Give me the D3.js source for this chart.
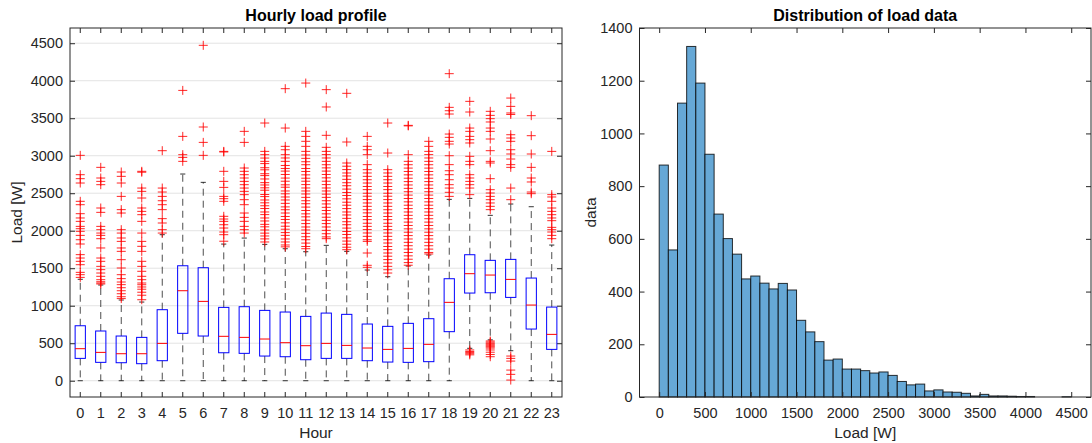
<!DOCTYPE html>
<html>
<head>
<meta charset="utf-8">
<script src="https://cdn.jsdelivr.net/npm/d3@7"></script>
<style>
  body { margin: 0; background: #fff; }
  svg { display: block; font-family: "Liberation Sans", Arial, sans-serif; }
  .tick text { fill: #262626; font-size: 14.5px; }
  .tick line { stroke: #262626; }
  .title { font-weight: bold; font-size: 16px; fill: #000; }
  .label { font-size: 15.5px; fill: #262626; }
</style>
</head>
<body>
<svg id="chart" width="1092" height="443"></svg>
<script>
// ---- data: hourly load boxplot ----
const hours = d3.range(0, 24);
const q1 = [298, 245, 240, 227, 267, 632, 596, 373, 365, 329, 320, 280, 298, 298, 267, 249, 245, 254, 654, 1169, 1173, 1111, 689, 418];
const medians = [427, 378, 360, 360, 498, 1200, 1058, 592, 578, 556, 507, 467, 498, 471, 436, 418, 431, 485, 1045, 1427, 1409, 1351, 1009, 618];
const q3 = [733, 663, 596, 578, 947, 1533, 1507, 978, 987, 938, 916, 858, 902, 885, 756, 725, 765, 827, 1360, 1680, 1605, 1618, 1369, 982];
const whiskLow = [0, 0, 0, 0, 0, 0, 0, 0, 0, 0, 0, 0, 0, 0, 0, 0, 0, 0, 0, 432, 545, 400, 0, 0];
const whiskHigh = [1352, 1276, 1076, 1049, 1947, 2756, 2645, 1822, 1902, 1818, 1760, 1720, 1805, 1725, 1476, 1387, 1529, 1676, 2418, 2431, 2205, 2356, 2320, 1809];
const outliers = [
  [3005, 2747, 2694, 2636, 2392, 2347, 2227, 2170, 2125, 2058, 2027, 1992, 1938, 1880, 1823, 1681, 1636, 1592, 1547, 1445, 1414, 1378],
  [2845, 2703, 2658, 2614, 2303, 2245, 2058, 2014, 1969, 1938, 1894, 1770, 1636, 1592, 1525, 1481, 1436, 1392, 1347, 1320, 1303, 1290],
  [2783, 2725, 2636, 2458, 2281, 2236, 2014, 1969, 1903, 1858, 1770, 1725, 1614, 1503, 1414, 1361, 1316, 1281, 1240, 1200, 1160, 1120, 1095],
  [2792, 2780, 2569, 2525, 2436, 2303, 2258, 2214, 2125, 1969, 1858, 1792, 1725, 1592, 1525, 1459, 1392, 1347, 1303, 1280, 1250, 1220, 1180, 1140, 1080],
  [3067, 2569, 2516, 2458, 2400, 2347, 2281, 2161, 2103, 2014, 1969],
  [3871, 3258, 3014, 2978, 2925],
  [4472, 3383, 3178, 3005],
  [3058, 3050, 2792, 2658, 2578, 2458, 2427, 2392, 2192, 2156, 2125, 2080, 2036, 1983, 1947, 1860],
  [3325, 3178, 2836, 2792, 2747, 2703, 2658, 2614, 2569, 2525, 2481, 2414, 2347, 2236, 2178, 2125, 2058, 2014, 1969],
  [3436, 3058, 3014, 2969, 2925, 2895, 2840, 2812, 2760, 2735, 2690, 2641, 2610, 2572, 2540, 2483, 2455, 2410, 2372, 2333, 2296, 2250, 2215, 2170, 2130, 2085, 2052, 2010, 1968, 1930, 1891, 1850],
  [3894, 3369, 3125, 3080, 3014, 2970, 2925, 2870, 2830, 2795, 2750, 2702, 2660, 2612, 2580, 2530, 2492, 2450, 2410, 2365, 2318, 2280, 2236, 2190, 2150, 2105, 2060, 2020, 1975, 1938, 1890, 1850, 1810, 1785],
  [3969, 3325, 3258, 3192, 3125, 3058, 3010, 2965, 2920, 2880, 2830, 2790, 2745, 2700, 2660, 2615, 2570, 2530, 2490, 2445, 2400, 2360, 2315, 2270, 2225, 2185, 2140, 2095, 2050, 2010, 1965, 1920, 1880, 1835, 1790, 1760],
  [3881, 3650, 3272, 3112, 3058, 3015, 2970, 2925, 2880, 2838, 2795, 2750, 2705, 2660, 2615, 2570, 2530, 2488, 2445, 2400, 2357, 2312, 2270, 2225, 2180, 2138, 2095, 2050, 2005, 1960, 1918, 1894],
  [3832, 3183, 2903, 2860, 2815, 2770, 2730, 2685, 2640, 2600, 2555, 2510, 2470, 2425, 2380, 2340, 2295, 2250, 2210, 2165, 2120, 2080, 2035, 1990, 1950, 1905, 1862, 1820, 1780, 1747],
  [3258, 3125, 3080, 3014, 2881, 2814, 2770, 2725, 2680, 2636, 2590, 2548, 2500, 2460, 2415, 2370, 2325, 2280, 2238, 2190, 2148, 2100, 2058, 2015, 1970, 1925, 1880, 1858, 1703, 1539, 1512],
  [3436, 3036, 2814, 2770, 2725, 2680, 2636, 2590, 2548, 2500, 2460, 2415, 2370, 2325, 2280, 2236, 2190, 2148, 2100, 2058, 2015, 1970, 1925, 1880, 1836, 1790, 1748, 1703, 1660, 1615, 1570, 1525, 1480, 1436],
  [3405, 3398, 3014, 2925, 2880, 2835, 2790, 2745, 2700, 2655, 2610, 2565, 2520, 2475, 2430, 2385, 2340, 2295, 2250, 2205, 2160, 2115, 2070, 2025, 1980, 1935, 1890, 1845, 1800, 1755, 1710, 1665, 1620, 1575, 1540],
  [3192, 3125, 3058, 3015, 2970, 2925, 2880, 2835, 2790, 2745, 2700, 2655, 2610, 2565, 2520, 2475, 2430, 2385, 2340, 2295, 2250, 2205, 2160, 2115, 2070, 2025, 1980, 1935, 1890, 1845, 1800, 1755, 1710, 1690],
  [4094, 3645, 3600, 3556, 3289, 3245, 3192, 3156, 3000, 2881, 2800, 2747, 2680, 2614, 2569, 2512, 2458],
  [3725, 3583, 3369, 3325, 3258, 3214, 3170, 2992, 2925, 2881, 2747, 2703, 2658, 2614, 2569, 2481, 410, 390, 375, 360, 345],
  [3592, 3538, 3494, 3450, 3369, 3325, 3223, 3067, 2925, 2903, 2694, 2547, 2503, 2458, 2414, 2370, 2325, 2281, 530, 515, 500, 488, 475, 462, 450, 435, 410, 380, 350, 320],
  [3769, 3658, 3570, 3550, 3280, 3236, 3192, 3080, 3023, 2956, 2881, 2845, 2569, 2414, 329, 298, 262, 142, 85, 9],
  [3534, 3267, 3023, 2845, 2703, 2650, 2516, 2494],
  [3058, 2481, 2450, 2392, 2303, 2258, 2214, 2170, 2134, 2045, 2014, 1983, 1938, 1894]
];
const loadTicks = [0, 500, 1000, 1500, 2000, 2500, 3000, 3500, 4000, 4500];

// ---- data: histogram ----
const binWidth = 100;
const counts = [880, 558, 1115, 1330, 1191, 921, 694, 601, 542, 448, 459, 432, 410, 431, 406, 291, 247, 210, 140, 144,
  106, 106, 100, 91, 95, 82, 59, 46, 49, 23, 27, 19, 18, 14, 4, 10, 4, 4, 3, 2, 2, 0, 0, 0, 1];
const countTicks = [0, 200, 400, 600, 800, 1000, 1200, 1400];

const fmt = d3.format("d");
const svg = d3.select("#chart");
svg.append("rect").attr("width", 1092).attr("height", 443).attr("fill", "#fff");

function frame(g, x0, x1, y0, y1) {
  g.append("rect")
    .attr("x", x0).attr("y", y0)
    .attr("width", x1 - x0).attr("height", y1 - y0)
    .attr("fill", "none").attr("stroke", "#262626");
}

// ================= left: boxplot =================
const L = { left: 70, right: 562, top: 28, bottom: 397 };
const left = svg.append("g");

const x = d3.scaleBand().domain(hours).range([L.left, L.right]);
const y = d3.scaleLinear().domain([-217, 4703]).range([L.bottom, L.top]);
const bw = x.bandwidth() * 0.5;
const cx = h => x(h) + x.bandwidth() / 2;

// grid
left.append("g").selectAll("line").data(loadTicks).join("line")
  .attr("x1", L.left).attr("x2", L.right)
  .attr("y1", d => y(d)).attr("y2", d => y(d))
  .attr("stroke", "#e3e3e3");

const gx = left.append("g").attr("transform", "translate(0," + L.bottom + ")")
  .call(d3.axisBottom(x).tickSize(-5).tickPadding(11));
gx.select(".domain").remove();
left.append("g").attr("transform", "translate(0," + L.top + ")")
  .call(d3.axisTop(x).tickSize(-5).tickFormat(""))
  .select(".domain").remove();
const gy = left.append("g").attr("transform", "translate(" + L.left + ",0)")
  .call(d3.axisLeft(y).tickValues(loadTicks).tickFormat(fmt).tickSize(-5).tickPadding(7));
gy.select(".domain").remove();
left.append("g").attr("transform", "translate(" + L.right + ",0)")
  .call(d3.axisRight(y).tickValues(loadTicks).tickSize(-5).tickFormat(""))
  .select(".domain").remove();

const boxes = left.append("g").selectAll("g").data(hours).join("g");

// whiskers
boxes.append("line")
  .attr("x1", cx).attr("x2", cx)
  .attr("y1", h => y(q3[h])).attr("y2", h => y(whiskHigh[h]))
  .attr("stroke", "#000").attr("stroke-opacity", 0.7).attr("stroke-dasharray", "7,5");
boxes.append("line")
  .attr("x1", cx).attr("x2", cx)
  .attr("y1", h => y(q1[h])).attr("y2", h => y(whiskLow[h]))
  .attr("stroke", "#000").attr("stroke-opacity", 0.7).attr("stroke-dasharray", "7,5");
// caps
[whiskHigh, whiskLow].forEach(arr => {
  boxes.append("line")
    .attr("x1", h => cx(h) - bw / 4).attr("x2", h => cx(h) + bw / 4)
    .attr("y1", h => y(arr[h])).attr("y2", h => y(arr[h]))
    .attr("stroke", "#000").attr("stroke-opacity", 0.8);
});
// box
boxes.append("rect")
  .attr("x", h => cx(h) - bw / 2).attr("width", bw)
  .attr("y", h => y(q3[h])).attr("height", h => y(q1[h]) - y(q3[h]))
  .attr("fill", "none").attr("stroke", "#0000ff");
// median
boxes.append("line")
  .attr("x1", h => cx(h) - bw / 2).attr("x2", h => cx(h) + bw / 2)
  .attr("y1", h => y(medians[h])).attr("y2", h => y(medians[h]))
  .attr("stroke", "#ff0000");

// outliers
const pts = [];
hours.forEach(h => outliers[h].forEach(v => pts.push({ h: h, v: v })));
const plus = 4.5;
left.append("g").selectAll("path").data(pts).join("path")
  .attr("d", d => {
    const px = cx(d.h), py = y(d.v);
    return "M" + (px - plus) + "," + py + "H" + (px + plus) + "M" + px + "," + (py - plus) + "V" + (py + plus);
  })
  .attr("stroke", "#ff0000").attr("stroke-opacity", 0.85).attr("fill", "none");

frame(left, L.left, L.right, L.top, L.bottom);

left.append("text").attr("class", "title").attr("x", (L.left + L.right) / 2).attr("y", 20.5)
  .attr("text-anchor", "middle").text("Hourly load profile");
left.append("text").attr("class", "label").attr("x", (L.left + L.right) / 2).attr("y", 438)
  .attr("text-anchor", "middle").text("Hour");
left.append("text").attr("class", "label")
  .attr("transform", "translate(22," + (L.top + L.bottom) / 2 + ") rotate(-90)")
  .attr("text-anchor", "middle").text("Load [W]");

// ================= right: histogram =================
const R = { left: 639.5, right: 1091, top: 28, bottom: 397 };
const right = svg.append("g");

const hx = d3.scaleLinear().domain([-215, 4716]).range([R.left, R.right]);
const hy = d3.scaleLinear().domain([0, 1400]).range([R.bottom, R.top]);

right.append("g").selectAll("rect").data(counts).join("rect")
  .attr("x", (d, i) => hx(i * binWidth))
  .attr("width", (d, i) => hx((i + 1) * binWidth) - hx(i * binWidth))
  .attr("y", d => hy(d))
  .attr("height", d => hy(0) - hy(d))
  .attr("fill", "rgb(102,168,214)")
  .attr("stroke", "#000").attr("stroke-opacity", 0.8);

const hg = right.append("g").attr("transform", "translate(0," + R.bottom + ")")
  .call(d3.axisBottom(hx).tickValues(loadTicks).tickFormat(fmt).tickSize(-5).tickPadding(11));
hg.select(".domain").remove();
right.append("g").attr("transform", "translate(0," + R.top + ")")
  .call(d3.axisTop(hx).tickValues(loadTicks).tickSize(-5).tickFormat(""))
  .select(".domain").remove();
const hgy = right.append("g").attr("transform", "translate(" + R.left + ",0)")
  .call(d3.axisLeft(hy).tickValues(countTicks).tickFormat(fmt).tickSize(-5).tickPadding(7));
hgy.select(".domain").remove();
right.append("g").attr("transform", "translate(" + R.right + ",0)")
  .call(d3.axisRight(hy).tickValues(countTicks).tickSize(-5).tickFormat(""))
  .select(".domain").remove();

frame(right, R.left, R.right, R.top, R.bottom);

right.append("text").attr("class", "title").attr("x", (R.left + R.right) / 2).attr("y", 20.5)
  .attr("text-anchor", "middle").text("Distribution of load data");
right.append("text").attr("class", "label").attr("x", (R.left + R.right) / 2).attr("y", 438)
  .attr("text-anchor", "middle").text("Load [W]");
right.append("text").attr("class", "label")
  .attr("transform", "translate(596," + (R.top + R.bottom) / 2 + ") rotate(-90)")
  .attr("text-anchor", "middle").text("data");
</script>
</body>
</html>
